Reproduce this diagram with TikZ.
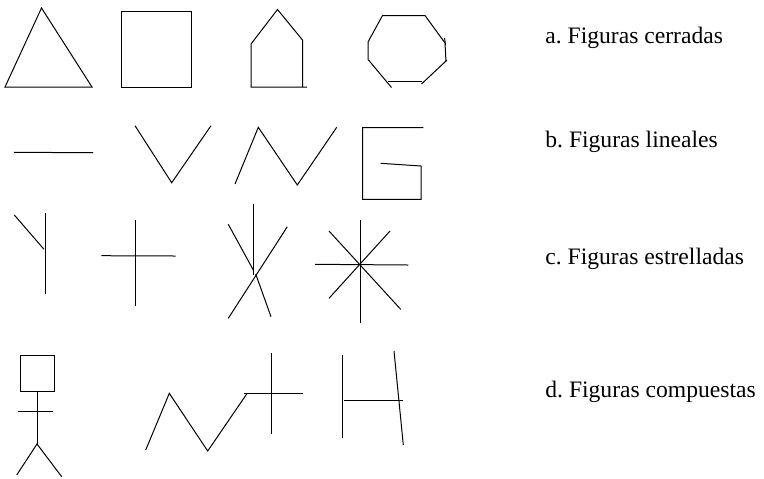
\documentclass[tikz,border=0pt]{standalone}
\usepackage{fontspec}
\setmainfont{Liberation Serif}
\usepackage{tikz}
\usetikzlibrary{positioning}
\frenchspacing

\begin{document}
\begin{tikzpicture}[
x=0.5pt,y=-0.5pt,
figline/.style={line width=0.5pt,line join=miter},
label/.style={anchor=base west,inner sep=0pt,font=\fontsize{11.8}{14}\selectfont}
]
\useasboundingbox (0,0) rectangle (764,478);

% a. cerradas
\draw[figline] (41.5,8) -- (5,87) -- (92,87) -- cycle;
\draw[figline] (121,11) rectangle (191,87);
\draw[figline] (307,87) -- (251,87) -- (251,44) -- (277.5,9.5) -- (302.5,40) -- (302.5,87);
\draw[figline] (368,60) -- (368,42) -- (382.5,15.5) -- (425,15.5) -- (445,43) -- (446,62);
\draw[figline] (444.5,38) -- (445.5,45);
\draw[figline] (447,60) -- (421.5,84);
\draw[figline] (388,81.5) -- (421.5,81.5);
\draw[figline] (368.5,60) -- (391.5,87.5);

% b. lineales
\draw[figline] (14,152.3) -- (93,152.7);
\draw[figline] (135,125.7) -- (171.7,182.7) -- (211,125.7);
\draw[figline] (235,184) -- (258.3,127.3) -- (297.3,185) -- (336.7,127.3);
\draw[figline] (423.3,127.7) -- (362.7,127.7) -- (362.7,199.3) -- (421,199.3) -- (421,166) -- (380.7,163.3);

% c. estrelladas
\draw[figline] (45.3,213.3) -- (45.3,294.3);
\draw[figline] (14.3,215) -- (44,249.3);
\draw[figline] (135,220) -- (135,305.7);
\draw[figline] (101.3,255.7) -- (175.7,256);
\draw[figline] (253.3,204) -- (253.3,275);
\draw[figline] (228.3,224.3) -- (253.3,270);
\draw[figline] (255.7,274) -- (271,316.7);
\draw[figline] (287.3,226.7) -- (228.3,318.3);
\draw[figline] (360.7,220) -- (360.7,323.3);
\draw[figline] (315,264.3) -- (408.3,265);
\draw[figline] (329,231) -- (400.7,309.3);
\draw[figline] (390,231) -- (329,298.3);

% d. compuestas
\draw[figline] (20.7,355.7) rectangle (54.3,391.7);
\draw[figline] (37,391.7) -- (37,444);
\draw[figline] (18.3,411.7) -- (52.7,411.7);
\draw[figline] (16.7,475) -- (37,444) -- (61.7,476.7);
\draw[figline] (145.7,450) -- (169.3,393.3) -- (207.7,451) -- (246.7,394);
\draw[figline] (244.3,393.3) -- (302.7,393.3);
\draw[figline] (271,353.3) -- (271,434.3);
\draw[figline] (342.3,355) -- (342.3,438.3);
\draw[figline] (394,351) -- (403.3,445);
\draw[figline] (344.3,400.7) -- (403.3,400.7);

\node[label] (cerradas) at (545,43) {a. Figuras cerradas};
\node[label] (lineales) at (545,147) {b. Figuras lineales};
\node[label] (estrelladas) at (545,264.3) {c. Figuras estrelladas};
\node[label] (compuestas) at (545,397) {d. Figuras compuestas};
\end{tikzpicture}
\end{document}
